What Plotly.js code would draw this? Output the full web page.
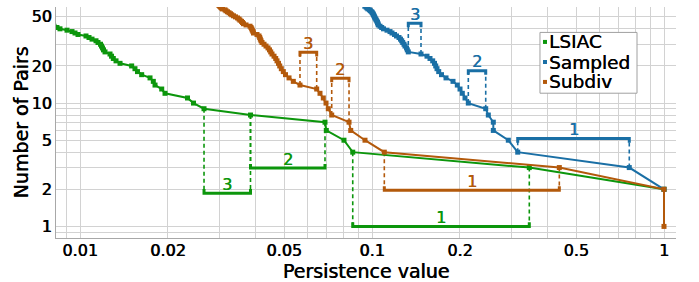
<!DOCTYPE html>
<html>
<head>
<meta charset="utf-8">
<script src="https://cdn.plot.ly/plotly-3.0.1.min.js"></script>
<style>
html,body{margin:0;padding:0;background:#fff;}
#chart{width:699px;height:282px;}
</style>
</head>
<body>
<div id="chart"></div>
<script>
// ---- series data (persistence value -> number of pairs) ----
const lsiacX = [0.008146, 0.00834, 0.00854, 0.009026, 0.009389, 0.009614, 0.009844, 0.010484, 0.010735, 0.010993,
  0.011345, 0.011525, 0.011753, 0.011848, 0.011944, 0.012038, 0.01218, 0.01267, 0.012823, 0.013004,
  0.013285, 0.01371, 0.01503, 0.015427, 0.015733, 0.016263, 0.01737, 0.017827, 0.018068, 0.019049,
  0.01955, 0.023341, 0.02447, 0.02659, 0.03836, 0.069025, 0.06974, 0.08017, 0.08591, 0.3457, 1];
const lsiacY = [42, 41, 40, 39, 38, 37, 36, 35, 34, 33,
  32, 31, 30, 29, 28, 27, 26, 25, 24, 23,
  22, 21, 20, 19, 18, 17, 16, 15, 14, 13,
  12, 11, 10, 9, 8, 7, 6, 5, 4, 3, 2];

const sampledX = [0.094500, 0.095500, 0.096200, 0.096893, 0.098046, 0.098823, 0.099762, 0.100236, 0.100791, 0.101189,
  0.101586, 0.101988, 0.102391, 0.102958, 0.103446, 0.104018, 0.10443, 0.104843, 0.105092, 0.106508,
  0.107946, 0.10949, 0.112554, 0.115249, 0.117082, 0.119413, 0.121312, 0.123727, 0.1252, 0.126391,
  0.127392, 0.128703, 0.129723, 0.131262, 0.132092, 0.133138, 0.147171, 0.1543, 0.157995, 0.161396,
  0.163703, 0.165261, 0.166964, 0.169218, 0.172995, 0.179248, 0.189422, 0.195953, 0.200172, 0.203837,
  0.208223, 0.213716, 0.245153, 0.250232, 0.260297, 0.260297, 0.292992, 0.315531, 0.76049, 1];
const sampledY = [61, 60, 59, 58, 57, 56, 55, 54, 53, 52,
  51, 50, 49, 48, 47, 46, 45, 44, 43, 42,
  41, 40, 39, 38, 37, 36, 35, 34, 33, 32,
  31, 30, 29, 28, 27, 26, 25, 24, 23, 22,
  21, 20, 19, 18, 17, 16, 15, 14, 13, 12,
  11, 10, 9, 8, 7, 6, 5, 4, 3, 2];

const subdivX = [0.02990, 0.030100, 0.030300, 0.030500, 0.030763, 0.031375, 0.031624, 0.032, 0.032381, 0.032766,
  0.033078, 0.033551, 0.034084, 0.034626, 0.035038, 0.035316, 0.035736, 0.036019, 0.036305, 0.037027,
  0.038213, 0.038516, 0.038729, 0.038913, 0.039128, 0.039283, 0.040383, 0.041025, 0.041252, 0.041448,
  0.041677, 0.042008, 0.042676, 0.043354, 0.044044, 0.044568, 0.044991, 0.045455, 0.046178, 0.046801,
  0.047283, 0.047846, 0.048301, 0.048914, 0.049692, 0.050562, 0.051977, 0.05377, 0.05667, 0.06465,
  0.06636, 0.06811, 0.06958, 0.07085, 0.07278, 0.08343, 0.08456, 0.09463, 0.11019, 0.43803, 1, 1];
const subdivY = [62, 61, 60, 59, 58, 57, 56, 55, 54, 53,
  52, 51, 50, 49, 48, 47, 46, 45, 44, 43,
  42, 41, 40, 39, 38, 37, 36, 35, 34, 33,
  32, 31, 30, 29, 28, 27, 26, 25, 24, 23,
  22, 21, 20, 19, 18, 17, 16, 15, 14, 13,
  12, 11, 10, 9, 8, 7, 6, 5, 4, 3, 2, 1];

const seriesNames = ['LSIAC', 'Sampled', 'Subdiv'];
const seriesColors = ['#0c960c', '#1a6fa5', '#b3590b'];

// ---- persistence bars (top-3 pairs of each series) ----
const barSeries     = [0, 0, 0, 1, 1, 1, 2, 2, 2];
const barStart      = [0.02659, 0.03836, 0.08591, 0.133138, 0.213716, 0.315531, 0.05667, 0.07278, 0.11019];
const barEnd        = [0.03836, 0.069025, 0.3457, 0.147171, 0.245153, 0.76049, 0.06465, 0.08343, 0.43803];
const barLevel      = [1.86, 2.97, 1.0, 44.4, 18.3, 5.16, 25.8, 15.9, 1.96];
const barStartCount = [9, 8, 4, 26, 10, 4, 14, 8, 4];
const barEndCount   = [8, 7, 3, 25, 9, 3, 13, 7, 3];
const barLabel      = ['3', '2', '1', '3', '2', '1', '3', '2', '1'];

// ---- axis ticks ----
const xTickVals = [0.01, 0.02, 0.05, 0.1, 0.2, 0.5, 1];
const xTickText = ['0.01', '0.02', '0.05', '0.1', '0.2', '0.5', '1'];
const yTickVals = [1, 2, 5, 10, 20, 50];
const yTickText = ['1', '2', '5', '10', '20', '50'];

// ---------------------------------------------------------------
const FONT = 'DejaVu Sans';
const GRID = '#d2d2d2';
const AXIS = '#a8a8a8';
const HEAVY = '0.6px 0 0 #000';
const minorVals = [];
[0.001, 0.01, 0.1, 1, 10].forEach(d => { for (let k = 1; k < 10; k++) minorVals.push(+(k * d).toPrecision(3)); });

const seriesX = [lsiacX, sampledX, subdivX];
const seriesY = [lsiacY, sampledY, subdivY];
const traces = [];

// dashed connectors and bars first (under the curves)
for (let s = 0; s < 3; s++) {
  const cx = [], cy = [], bx = [], by = [];
  for (let i = 0; i < barSeries.length; i++) {
    if (barSeries[i] !== s) continue;
    const up = barLevel[i] > barStartCount[i];
    const k = up ? 1 / 1.08 : 1.08;
    cx.push(barStart[i], barStart[i], null, barEnd[i], barEnd[i], null);
    cy.push(barStartCount[i], barLevel[i], null, barEndCount[i], barLevel[i], null);
    bx.push(barStart[i], barStart[i], barEnd[i], barEnd[i], null);
    by.push(barLevel[i] * k, barLevel[i], barLevel[i], barLevel[i] * k, null);
  }
  traces.push({type: 'scatter', mode: 'lines', x: cx, y: cy, showlegend: false, hoverinfo: 'skip',
    line: {color: seriesColors[s], width: 1.6, dash: '4px,3px'}, connectgaps: false});
  traces.push({type: 'scatter', mode: 'lines', x: bx, y: by, showlegend: false, hoverinfo: 'skip',
    line: {color: seriesColors[s], width: 3}, connectgaps: false});
}
for (let s = 0; s < 3; s++) {
  traces.push({type: 'scatter', mode: 'lines+markers', name: seriesNames[s], x: seriesX[s], y: seriesY[s],
    line: {color: seriesColors[s], width: 2}, marker: {symbol: 'square', size: 5, color: seriesColors[s]},
    cliponaxis: true});
}

const annotations = [];
for (let i = 0; i < barSeries.length; i++) {
  const c = seriesColors[barSeries[i]];
  annotations.push({xref: 'x', yref: 'y', x: (Math.log10(barStart[i]) + Math.log10(barEnd[i])) / 2,
    y: Math.log10(barLevel[i]), text: barLabel[i], showarrow: false, yanchor: 'middle', xanchor: 'center',
    yshift: 9, font: {family: FONT, size: 16, color: c, shadow: '0.6px 0 0 ' + c}});
}
// y-axis title
annotations.push({xref: 'paper', yref: 'paper', x: -0.058, y: 0.5, xanchor: 'center', yanchor: 'middle',
  textangle: -90, text: 'Number of Pairs', showarrow: false,
  font: {family: FONT, size: 19, color: '#000', shadow: HEAVY}});
// custom legend
const legX = 0.7806, legX1 = 0.9371, legYTop = 0.890, legYBot = 0.6268;
const legRowY = [0.8488, 0.7619, 0.6756];
const shapes = [{type: 'rect', xref: 'paper', yref: 'paper', x0: legX, x1: legX1, y0: legYBot, y1: legYTop,
  line: {color: '#a0a0a0', width: 1}, fillcolor: '#ffffff', layer: 'above'}];
for (let s = 0; s < 3; s++) {
  shapes.push({type: 'rect', xref: 'paper', yref: 'paper', xsizemode: 'pixel', ysizemode: 'pixel',
    xanchor: 0.7887, yanchor: legRowY[s], x0: -2, x1: 2, y0: -2, y1: 2,
    line: {width: 0}, fillcolor: seriesColors[s], layer: 'above'});
  annotations.push({xref: 'paper', yref: 'paper', x: 0.7920, y: legRowY[s], xanchor: 'left', yanchor: 'middle',
    text: seriesNames[s], showarrow: false, font: {family: FONT, size: 18.5, color: '#000', shadow: '0.3px 0 0 #000'}});
}

const layout = {
  width: 699, height: 282,
  margin: {l: 56, r: 23, t: 6.5, b: 43.7, pad: 0},
  paper_bgcolor: '#ffffff', plot_bgcolor: '#ffffff',
  font: {family: FONT, color: '#000'},
  showlegend: false,
  xaxis: {type: 'log', range: [-2.0822, 0.0411], tickmode: 'array', tickvals: xTickVals, ticktext: xTickText,
    ticks: '', showgrid: true, gridcolor: GRID, gridwidth: 1, ticklabelstandoff: -2,
    minor: {tickmode: 'array', tickvals: minorVals, showgrid: true, gridcolor: GRID, gridwidth: 1, ticks: ''},
    showline: true, linecolor: AXIS, linewidth: 1, zeroline: false,
    tickfont: {family: FONT, size: 16, color: '#000', shadow: HEAVY},
    title: {text: 'Persistence value', font: {family: FONT, size: 19, color: '#000', shadow: HEAVY}, standoff: 3},
    automargin: false, fixedrange: true},
  yaxis: {type: 'log', range: [-0.0939, 1.779], tickmode: 'array', tickvals: yTickVals, ticktext: yTickText,
    ticks: '', showgrid: true, gridcolor: GRID, gridwidth: 1,
    minor: {tickmode: 'array', tickvals: minorVals, showgrid: true, gridcolor: GRID, gridwidth: 1, ticks: ''},
    showline: true, linecolor: AXIS, linewidth: 1, zeroline: false,
    tickfont: {family: FONT, size: 16, color: '#000', shadow: HEAVY},
    automargin: false, fixedrange: true},
  annotations: annotations,
  shapes: shapes
};

Plotly.newPlot('chart', traces, layout, {staticPlot: true, displayModeBar: false});
</script>
</body>
</html>
